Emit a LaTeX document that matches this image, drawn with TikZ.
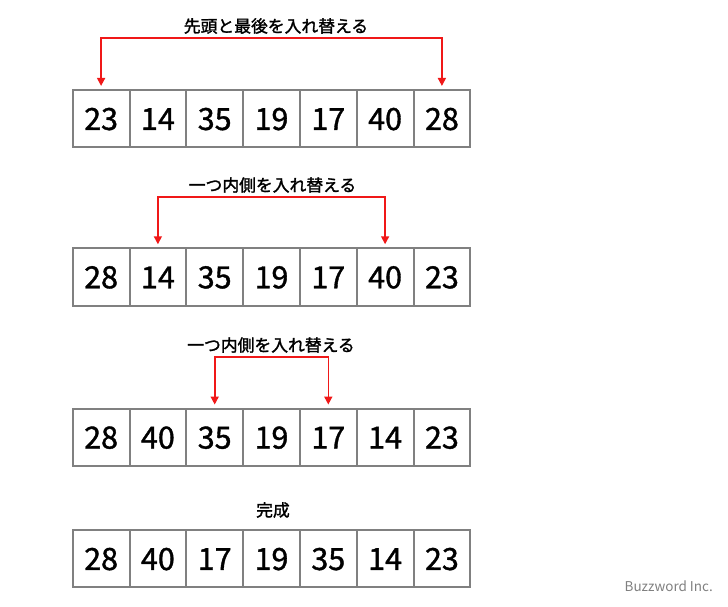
\documentclass[tikz,border=0pt]{standalone}
\usepackage{fontspec}
\setmainfont{Noto Sans CJK JP}
\newfontfamily\numfont[FakeBold=1.2]{Noto Sans CJK JP}
\newfontfamily\titlefont[FakeBold=1.6]{Noto Sans CJK JP}
\usetikzlibrary{arrows.meta}
\definecolor{cellgray}{HTML}{808080}
\definecolor{arrred}{HTML}{F01818}
\tikzset{
  cell/.style={draw=cellgray, line width=2pt, minimum width=56.8pt, minimum height=57.5pt,
    inner sep=0pt, text height=22.5pt, text depth=0pt, font=\numfont\fontsize{30.5}{30.5}\selectfont},
  swaparrow/.style={draw=arrred, line width=1.6pt, {Triangle[width=8pt,length=8pt]}-{Triangle[width=8pt,length=8pt]}},
  title/.style={font=\titlefont\fontsize{16.8}{16.8}\selectfont, inner sep=0pt},
}
\begin{document}
\begin{tikzpicture}[x=1pt,y=-1pt]
\useasboundingbox (0,0) rectangle (728,606);
\foreach \r/\yc/\vals in {1/118.7/{23,14,35,19,17,40,28},2/277/{28,14,35,19,17,40,23},3/437.3/{28,40,35,19,17,14,23},4/558.7/{28,40,17,19,35,14,23}}{
  \foreach \v [count=\i] in \vals {
    \node[cell] (r\r c\i) at ({72.7+28.4+56.8*(\i-1)}, \yc) {\v};
  }
}
\node[title] (t1) at (276,26) {先頭と最後を入れ替える};
\node[title] (t2) at (272.5,185) {一つ内側を入れ替える};
\node[title] (t3) at (271,345) {一つ内側を入れ替える};
\node[title] (t4) at (273,510) {完成};
\draw[swaparrow] ([yshift=3pt]r1c1.north) -- ++(0,-47.7) -| ([yshift=3pt]r1c7.north);
\draw[swaparrow] ([yshift=3pt]r2c2.north) -- ++(0,-47) -| ([yshift=3pt]r2c6.north);
\draw[swaparrow] ([yshift=3pt]r3c3.north) -- ++(0,-47.7) -| ([yshift=3pt]r3c5.north);
\node[text=cellgray, font=\fontsize{13.5}{13.5}\selectfont, anchor=east, inner sep=0pt] (wm) at (713,586) {Buzzword Inc.};
\end{tikzpicture}
\end{document}
